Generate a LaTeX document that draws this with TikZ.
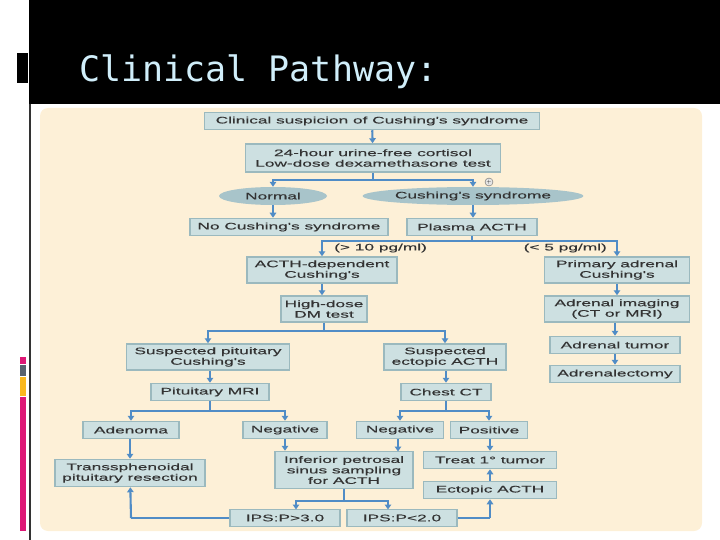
\documentclass[tikz,border=0pt]{standalone}
\usepackage{fontspec}
\usetikzlibrary{arrows.meta,shapes.geometric}
\newfontfamily\boxfont[FakeStretch=1.82,FakeBold=0.3]{Liberation Sans}
\newfontfamily\titlefont{DejaVu Sans Mono}
\definecolor{cream}{RGB}{253,240,215}
\definecolor{boxfill}{RGB}{205,224,225}
\definecolor{boxline}{RGB}{155,185,190}
\definecolor{ovalfill}{RGB}{168,196,202}
\definecolor{arrowblue}{RGB}{80,140,198}
\definecolor{titleblue}{RGB}{208,238,250}
\definecolor{barpink}{RGB}{222,24,118}
\definecolor{bargray}{RGB}{88,98,110}
\definecolor{baryellow}{RGB}{250,184,30}
\tikzset{
  box/.style={draw=boxline, fill=boxfill, line width=1.5pt, inner sep=1pt,
    align=center, text=black!80, font=\fontsize{9.5}{10.5}\selectfont\boxfont,
    minimum height=17},
  oval/.style={ellipse, fill=ovalfill, inner sep=0pt, minimum height=18,
    text=black!80, font=\fontsize{9.5}{10.5}\selectfont\boxfont},
  lbl/.style={text=black!80, inner sep=0pt, font=\fontsize{9.5}{10.5}\selectfont\boxfont},
  line/.style={draw=arrowblue, line width=2.1pt},
  arr/.style={line, -{Triangle[length=5pt,width=6.5pt]}}
}
\begin{document}
\begin{tikzpicture}[x=1pt,y=-1pt]
    \useasboundingbox (0,0) rectangle (720,540);
    % slide frame
    \fill[black] (29,0) rectangle (720,104);
    \fill[black] (17,53) rectangle (28,83);
    \fill[black!80] (29,104) rectangle (30.5,540);
    \fill[barpink] (20,357) rectangle (26,364);
    \fill[bargray] (20,365) rectangle (26,376);
    \fill[baryellow] (20,377) rectangle (26,396);
    \fill[barpink] (20,397) rectangle (26,531);
    \node[anchor=base west, text=titleblue, inner sep=0pt,
      font=\fontsize{35}{35}\selectfont\titlefont] (title) at (79,82) {Clinical Pathway:};
    \fill[cream, rounded corners=8] (40,108) rectangle (702,531);

    % boxes
    \node[box, minimum width=335] (clin) at (372,121) {Clinical suspicion of Cushing's syndrome};
    \node[box, minimum width=255, minimum height=28] (test) at (373,158) {24-hour urine-free cortisol\\Low-dose dexamethasone test};
    \node[oval, minimum width=108] (normal) at (273,196) {Normal};
    \node[oval, minimum width=210] (cush) at (473,196) {Cushing's syndrome};
    \node[circle, draw=black!60, fill=black!10, inner sep=0pt, minimum size=8,
      font=\tiny] (plus) at (489,182) {+};
    \node[box, minimum width=198] (nocush) at (289,227) {No Cushing's syndrome};
    \node[box, minimum width=130] (plasma) at (472,227) {Plasma ACTH};
    \node[lbl, anchor=west] (hi) at (334,248) {(> 10 pg/ml)};
    \node[lbl, anchor=east] (lo) at (607,248) {(< 5 pg/ml)};
    \node[box, minimum width=150, minimum height=26] (acthdep) at (322,270) {ACTH-dependent\\Cushing's};
    \node[box, minimum width=145, minimum height=26] (primary) at (617,270) {Primary adrenal\\Cushing's};
    \node[box, minimum width=86, minimum height=26] (highdose) at (324,309) {High-dose\\DM test};
    \node[box, minimum width=145, minimum height=26] (imaging) at (617,309) {Adrenal imaging\\(CT or MRI)};
    \node[box, minimum width=130] (tumor) at (615,345) {Adrenal tumor};
    \node[box, minimum width=130] (adrenalect) at (615,374) {Adrenalectomy};
    \node[box, minimum width=163, minimum height=26] (susppit) at (208,357) {Suspected pituitary\\Cushing's};
    \node[box, minimum width=122, minimum height=26] (suspect) at (445,357) {Suspected\\ectopic ACTH};
    \node[box, minimum width=118] (pitmri) at (210,392) {Pituitary MRI};
    \node[box, minimum width=90] (chest) at (446,392) {Chest CT};
    \node[box, minimum width=96] (adenoma) at (131,430) {Adenoma};
    \node[box, minimum width=84] (negL) at (285,430) {Negative};
    \node[box, minimum width=87] (negR) at (400,430) {Negative};
    \node[box, minimum width=77] (positive) at (489,430) {Positive};
    \node[box, minimum width=150, minimum height=27] (transs) at (130,473) {Transsphenoidal\\pituitary resection};
    \node[box, minimum width=138, minimum height=37] (ipss) at (344,470) {Inferior petrosal\\sinus sampling\\for ACTH};
    \node[box, minimum width=133] (treat) at (490,460) {Treat 1\textdegree\ tumor};
    \node[box, minimum width=133] (ectopic) at (490,490) {Ectopic ACTH};
    \node[box, minimum width=110] (ipsA) at (285,518) {IPS:P>3.0};
    \node[box, minimum width=110] (ipsB) at (402,518) {IPS:P<2.0};

    % junctions
    \coordinate (j1) at (373,180);
    \coordinate (j2) at (472,241);
    \coordinate (j3) at (324,331);
    \coordinate (j4) at (210,411);
    \coordinate (j5) at (446,411);
    \coordinate (j6) at (344,501);
    \coordinate (c1) at (131,518);
    \coordinate (c2) at (490,518);

    % connectors
    \draw[arr] (clin) -- (test);
    \draw[line] (test) -- (j1);
    \draw[arr] (j1) -| (normal.north);
    \draw[arr] (j1) -| (cush.north);
    \draw[arr] (normal) -- (normal |- nocush.north);
    \draw[arr] (cush) -- (cush |- plasma.north);
    \draw[line] (plasma) -- (j2);
    \draw[arr] (j2) -| (acthdep.north);
    \draw[arr] (j2) -| (primary.north);
    \draw[arr] (acthdep) -- (acthdep |- highdose.north);
    \draw[arr] (primary) -- (imaging);
    \draw[arr] (imaging.south -| tumor) -- (tumor);
    \draw[arr] (tumor) -- (adrenalect);
    \draw[line] (highdose) -- (j3);
    \draw[arr] (j3) -| (susppit.north);
    \draw[arr] (j3) -| (suspect.north);
    \draw[arr] (susppit.south -| pitmri) -- (pitmri);
    \draw[arr] (suspect.south -| chest) -- (chest);
    \draw[line] (pitmri) -- (j4);
    \draw[arr] (j4) -| (adenoma.north);
    \draw[arr] (j4) -| (negL.north);
    \draw[line] (chest) -- (j5);
    \draw[arr] (j5) -| (negR.north);
    \draw[arr] (j5) -| (positive.north);
    \draw[arr] (adenoma.south -| transs) -- (transs);
    \draw[arr] (negL) -- (negL |- ipss.north);
    \draw[arr] (negR.south -| 398,0) -- (398,451.5);
    \draw[arr] (positive.south -| treat) -- (treat);
    \draw[arr] (ectopic) -- (treat);
    \draw[line] (ipss) -- (j6);
    \draw[arr] (j6) -| (296,509.5);
    \draw[arr] (j6) -| (388,509.5);
    \draw[line] (ipsA) -- (c1);
    \draw[arr] (c1) -- (transs);
    \draw[line] (ipsB) -- (c2);
    \draw[arr] (c2) -- (ectopic);
\end{tikzpicture}
\end{document}
